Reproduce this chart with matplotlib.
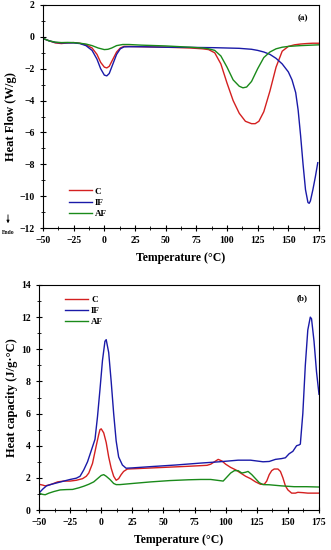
import matplotlib.pyplot as plt
from matplotlib.ticker import MultipleLocator
from matplotlib.patches import FancyArrowPatch

plt.rcParams['font.family'] = ['Liberation Serif', 'DejaVu Serif']
plt.rcParams['font.weight'] = 'bold'

# (a) heat flow, W/g
t_c_a = [-50, -45, -40, -35, -30, -25, -20, -15, -10, -6, -3, 0, 2, 4, 7, 10, 13, 16, 20, 30, 50, 70, 80, 85, 90, 95, 100, 105, 110, 115, 120, 123, 126, 130, 135, 140, 145, 150, 155, 160, 165, 170, 175]
hf_c = [-0.1, -0.25, -0.38, -0.42, -0.38, -0.36, -0.4, -0.5, -0.7, -1.1, -1.6, -1.9, -1.95, -1.85, -1.4, -0.95, -0.7, -0.6, -0.6, -0.62, -0.65, -0.7, -0.75, -0.8, -1.0, -1.7, -2.9, -4.0, -4.8, -5.3, -5.45, -5.45, -5.3, -4.7, -3.4, -1.9, -0.9, -0.6, -0.5, -0.45, -0.42, -0.4, -0.4]
t_if_a = [-50, -45, -40, -35, -30, -25, -20, -15, -10, -6, -3, 0, 2, 4, 7, 10, 13, 16, 20, 30, 50, 70, 90, 110, 120, 125, 130, 135, 140, 145, 150, 153, 156, 158, 160, 162, 164, 166, 167, 168, 170, 172, 174]
hf_if = [-0.1, -0.25, -0.35, -0.38, -0.38, -0.38, -0.42, -0.55, -0.85, -1.4, -2.0, -2.4, -2.45, -2.3, -1.7, -1.1, -0.75, -0.63, -0.62, -0.62, -0.65, -0.66, -0.68, -0.72, -0.78, -0.85, -0.95, -1.1, -1.35, -1.7, -2.2, -2.7, -3.5, -4.6, -6.2, -8.0, -9.6, -10.4, -10.45, -10.3, -9.6, -8.8, -7.9]
t_af_a = [-50, -45, -40, -35, -30, -25, -20, -15, -10, -5, 0, 3, 6, 10, 15, 20, 30, 50, 70, 80, 85, 90, 95, 100, 105, 110, 113, 116, 120, 125, 130, 135, 140, 145, 150, 160, 175]
hf_af = [-0.1, -0.25, -0.33, -0.36, -0.35, -0.36, -0.4, -0.45, -0.55, -0.7, -0.8, -0.78, -0.7, -0.55, -0.48, -0.48, -0.52, -0.57, -0.65, -0.7, -0.75, -0.85, -1.2, -1.9, -2.7, -3.1, -3.2, -3.15, -2.8, -2.0, -1.3, -0.95, -0.75, -0.65, -0.6, -0.55, -0.5]

# (b) heat capacity, J/g.C
t_c_b = [-50, -47, -45, -40, -35, -30, -25, -20, -15, -12, -10, -7, -4, -2, -1, 0, 2, 4, 6, 8, 10, 12, 14, 16, 18, 21, 30, 50, 70, 85, 88, 91, 94, 97, 100, 104, 108, 112, 116, 120, 124, 128, 131, 133, 135, 137, 139, 142, 144, 146, 148, 150, 153, 156, 158, 162, 166, 175]
cp_c = [1.6, 1.55, 1.5, 1.6, 1.75, 1.8, 1.8, 1.85, 1.95, 2.1, 2.3, 2.9, 4.0, 4.7, 5.0, 5.05, 4.8, 4.2, 3.3, 2.6, 2.1, 1.85, 1.95, 2.2, 2.4, 2.55, 2.58, 2.65, 2.72, 2.78, 2.85, 3.0, 3.15, 3.05, 2.85, 2.65, 2.5, 2.3, 2.1, 1.95, 1.75, 1.6, 1.6, 1.8, 2.2, 2.45, 2.55, 2.55, 2.4, 2.0, 1.5, 1.25, 1.05, 1.05, 1.1, 1.08, 1.05, 1.05]
t_if_b = [-50, -47, -44, -40, -35, -30, -25, -20, -17, -14, -11, -8, -5, -3, -1, 1, 3, 4, 6, 8, 10, 12, 14, 17, 20, 25, 40, 60, 80, 95, 110, 120, 130, 135, 140, 145, 148, 151, 154, 157, 159, 160, 162, 164, 166, 168, 169, 171, 173, 175]
cp_if = [1.05, 1.3, 1.5, 1.6, 1.7, 1.8, 1.9, 1.98, 2.1, 2.5, 3.0, 3.7, 4.4, 5.8, 7.5, 9.3, 10.5, 10.6, 9.8, 8.0, 6.0, 4.3, 3.3, 2.8, 2.6, 2.62, 2.7, 2.8, 2.92, 3.0, 3.1, 3.1, 3.0, 3.02, 3.15, 3.2, 3.25, 3.5, 3.65, 4.0, 4.05, 4.1, 6.0, 9.0, 11.2, 12.0, 11.9, 10.5, 8.6, 7.2]
t_af_b = [-50, -47, -45, -42, -38, -33, -28, -23, -18, -14, -10, -6, -3, 0, 2, 4, 7, 10, 12, 15, 25, 40, 55, 70, 80, 88, 93, 98, 101, 104, 107, 110, 113, 116, 118, 121, 124, 127, 130, 135, 145, 155, 165, 175]
cp_af = [1.05, 0.97, 0.95, 1.05, 1.15, 1.25, 1.27, 1.28, 1.38, 1.48, 1.6, 1.75, 1.95, 2.15, 2.2, 2.1, 1.9, 1.65, 1.58, 1.58, 1.65, 1.75, 1.83, 1.88, 1.9, 1.9, 1.85, 1.8, 2.05, 2.3, 2.45, 2.45, 2.3, 2.35, 2.4, 2.2, 1.95, 1.7, 1.58, 1.57, 1.5, 1.45, 1.45, 1.43]

labels = ['C', 'IF', 'AF']
colors = ['#d42020', '#1a1aa8', '#1a8a1a']

fig = plt.figure(figsize=(3.31, 5.5), dpi=100)
ax1 = fig.add_axes([43 / 331, 1 - 228 / 550, 276 / 331, 223 / 550])
ax2 = fig.add_axes([39 / 331, 1 - 510 / 550, 280 / 331, 225 / 550])

for t, y, lab, c in zip([t_c_a, t_if_a, t_af_a], [hf_c, hf_if, hf_af], labels, colors):
    ax1.plot(t, y, color=c, lw=1.0, label=lab)
for t, y, lab, c in zip([t_c_b, t_if_b, t_af_b], [cp_c, cp_if, cp_af], labels, colors):
    ax2.plot(t, y, color=c, lw=1.0, label=lab)

ax1.set_ylim(-12, 2)
ax2.set_ylim(0, 14)
ax1.yaxis.set_major_locator(MultipleLocator(2))
ax2.yaxis.set_major_locator(MultipleLocator(2))
ax1.yaxis.set_minor_locator(MultipleLocator(1))
ax2.yaxis.set_minor_locator(MultipleLocator(1))

for ax in (ax1, ax2):
    ax.set_xlim(-50, 175)
    ax.xaxis.set_major_locator(MultipleLocator(25))
    ax.xaxis.set_minor_locator(MultipleLocator(12.5))
    ax.tick_params(which='major', direction='inout', length=5, width=0.8, labelsize=7, top=False, right=False)
    ax.tick_params(which='minor', direction='inout', length=3, width=0.6, top=False, right=False)
    for s in ax.spines.values():
        s.set_linewidth(0.8)
    ax.set_xlabel('Temperature (°C)', fontsize=8.5, fontweight='bold', labelpad=5)
    for lbl in ax.get_xticklabels() + ax.get_yticklabels():
        lbl.set_fontweight('bold')

ax1.set_ylabel('Heat Flow (W/g)', fontsize=9, fontweight='bold', labelpad=2)
ax2.set_ylabel('Heat capacity (J/g·°C)', fontsize=9, fontweight='bold', labelpad=2)

ax1.legend(loc='lower left', bbox_to_anchor=(0.08, 0.03), frameon=False, fontsize=6.5,
           handlelength=2.6, labelspacing=0.3, handletextpad=0.3, borderaxespad=0)
ax2.legend(loc='upper left', bbox_to_anchor=(0.08, 0.97), frameon=False, fontsize=6.5,
           handlelength=2.6, labelspacing=0.3, handletextpad=0.3, borderaxespad=0)

ax1.text(0.96, 0.94, '(a)', transform=ax1.transAxes, ha='right', va='center', fontsize=6.5, fontweight='bold')
ax2.text(0.96, 0.94, '(b)', transform=ax2.transAxes, ha='right', va='center', fontsize=6.5, fontweight='bold')

# endo arrow
fig.text(8 / 331, 1 - 233 / 550, 'Endo', fontsize=4, ha='center', va='center', fontweight='bold')
fig.patches.append(FancyArrowPatch(
    (8 / 331, 1 - 212 / 550), (8 / 331, 1 - 226 / 550), transform=fig.transFigure,
    arrowstyle='-|>', mutation_scale=4, lw=0.6, color='black'))

fig.savefig('out.png', dpi=100)
